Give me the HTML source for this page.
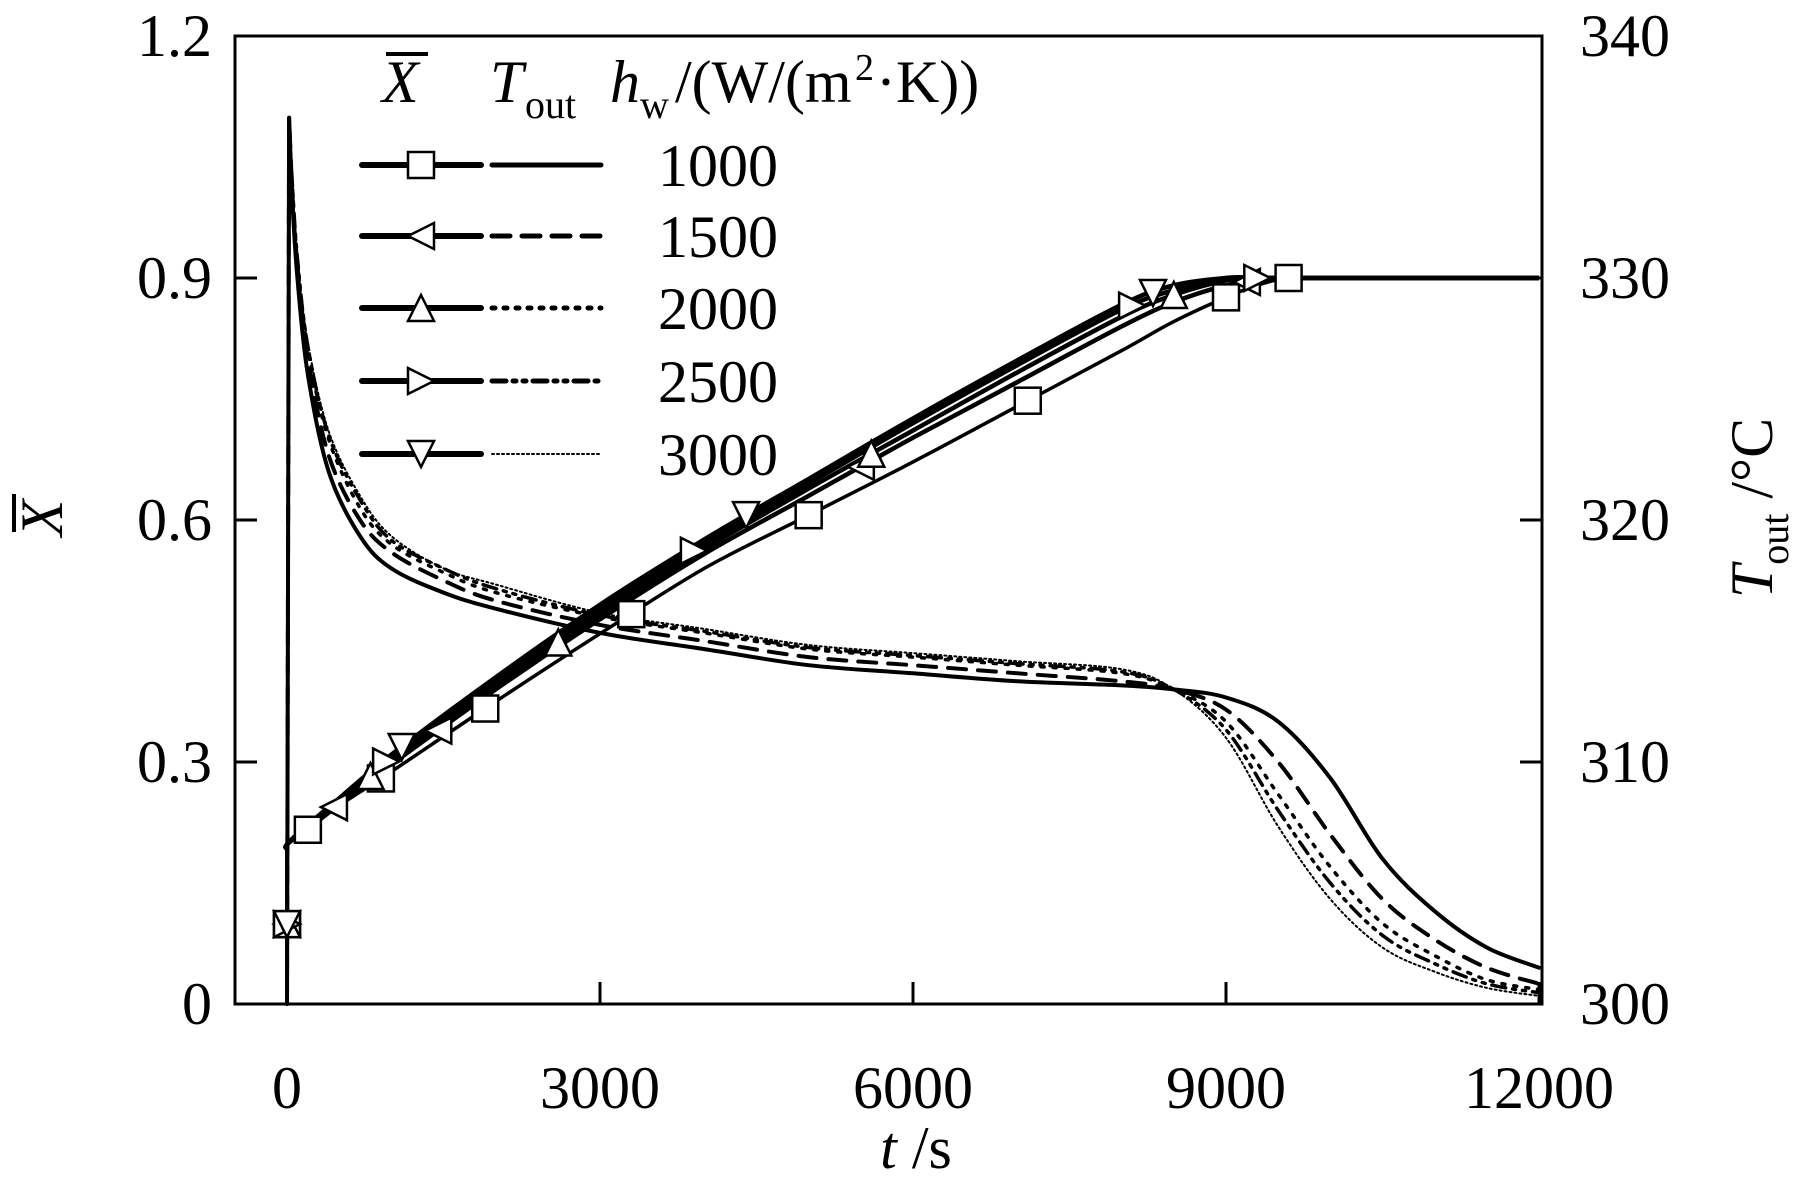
<!DOCTYPE html>
<html><head><meta charset="utf-8">
<style>
html,body{margin:0;padding:0;background:#fff;}
svg{display:block;}
text{font-family:"Liberation Serif",serif;fill:#000;}
</style></head>
<body>
<svg id="chart" width="1794" height="1181" viewBox="0 0 1794 1181" xmlns="http://www.w3.org/2000/svg">
<g id="plot"></g>
<g id="axes"></g>
<g id="legend"></g>
</svg>
<script>
// ---- data ----
const xTimes = [0, 20, 50, 100, 200, 400, 700, 1000, 1500, 2000, 3000, 4000, 5000, 6000, 7000, 8000, 8500, 9000, 9500, 10000, 10500, 11000, 11500, 12000];
const X1000 = [0,1.1,1.0,0.9,0.78,0.66,0.58,0.54,0.51,0.49,0.46,0.44,0.42,0.41,0.40,0.395,0.39,0.38,0.35,0.28,0.18,0.115,0.07,0.045];
const X1500 = [0,1.1,1.01,0.91,0.80,0.68,0.60,0.56,0.525,0.50,0.47,0.45,0.43,0.42,0.41,0.40,0.39,0.365,0.30,0.21,0.13,0.08,0.045,0.025];
const X2000 = [0,1.1,1.015,0.92,0.81,0.70,0.615,0.57,0.535,0.51,0.48,0.46,0.44,0.43,0.42,0.41,0.39,0.35,0.26,0.17,0.10,0.06,0.03,0.018];
const X2500 = [0,1.1,1.02,0.925,0.815,0.705,0.625,0.575,0.54,0.515,0.482,0.462,0.442,0.432,0.422,0.412,0.39,0.34,0.24,0.15,0.085,0.05,0.025,0.014];
const X3000 = [0,1.1,1.02,0.93,0.82,0.71,0.63,0.58,0.54,0.52,0.485,0.465,0.445,0.435,0.425,0.415,0.39,0.33,0.22,0.13,0.07,0.04,0.02,0.01];

const tTimes = [0, 1, 200, 500, 1000, 2000, 3000, 4000, 5000, 6000, 7000, 8000, 8500, 9000, 9300, 9600, 10000, 12000];
const T1000 = [306.4,306.6,307.2,308.2,309.6,312.5,315.3,318.0,320.2,322.4,324.7,327.0,328.2,329.2,329.7,330,330,330];
const T1500 = [306.4,306.6,307.3,308.3,309.9,313.0,315.9,318.6,321.0,323.4,325.7,328.0,329.0,329.7,329.9,330,330,330];
const T2000 = [306.4,306.6,307.3,308.4,310.1,313.2,316.1,318.8,321.3,323.7,326.1,328.4,329.3,329.9,330,330,330,330];
const T2500 = [306.4,306.6,307.4,308.4,310.2,313.4,316.3,319.0,321.5,324.0,326.4,328.7,329.5,330,330,330,330,330];
const T3000 = [306.4,306.6,307.4,308.5,310.3,313.5,316.5,319.2,321.7,324.2,326.6,328.9,329.7,330,330,330,330,330];

const marks1000 = [200, 900, 1900, 3300, 5000, 7100, 9000, 9600];
const marks1500 = [450, 1450, 5500, 9200];
const marks2000 = [800, 2600, 5600, 8500];
const marks2500 = [950, 3900, 8100, 9300];
const marks3000 = [1100, 4400, 8300];
const startT = 303.3;

const hwLabels = ["1000","1500","2000","2500","3000"];
const xTicks = [0, 3000, 6000, 9000, 12000];
const yTicks = [0, 0.3, 0.6, 0.9, 1.2];
const yTickLabels = ["0","0.3","0.6","0.9","1.2"];
const tTicks = [300, 310, 320, 330, 340];

// ---- scales ----
const L=235, R=1542, TOP=36, BOT=1004, X0=287, X12=1539;
const sx = t => X0 + (X12 - X0) * t / 12000;
const sy = v => BOT - (BOT - TOP) * v / 1.2;
const sT = T => BOT - (BOT - TOP) * (T - 300) / 40;

const NS = "http://www.w3.org/2000/svg";
function el(tag, attrs, parent){const e=document.createElementNS(NS,tag);for(const k in attrs)e.setAttribute(k,attrs[k]);parent.appendChild(e);return e;}
function smoothPath(pts, start){
  start = start||0;
  let d = "M"+pts[0][0].toFixed(1)+","+pts[0][1].toFixed(1);
  for(let i=1;i<=start;i++) d+="L"+pts[i][0].toFixed(1)+","+pts[i][1].toFixed(1);
  for(let i=start;i<pts.length-1;i++){
    const p0=pts[Math.max(start,i-1)],p1=pts[i],p2=pts[i+1],p3=pts[Math.min(pts.length-1,i+2)];
    const c1=[p1[0]+(p2[0]-p0[0])/6,p1[1]+(p2[1]-p0[1])/6];
    const c2=[p2[0]-(p3[0]-p1[0])/6,p2[1]-(p3[1]-p1[1])/6];
    d+="C"+c1[0].toFixed(1)+","+c1[1].toFixed(1)+" "+c2[0].toFixed(1)+","+c2[1].toFixed(1)+" "+p2[0].toFixed(1)+","+p2[1].toFixed(1);
  }
  return d;
}
function interp(ts, vs, t){
  for(let i=0;i<ts.length-1;i++){ if(t>=ts[i]&&t<=ts[i+1]){const f=(t-ts[i])/(ts[i+1]-ts[i]);return vs[i]+f*(vs[i+1]-vs[i]);} }
  return vs[vs.length-1];
}
function marker(type, cx, cy, parent){
  const s=13;
  let e;
  if(type==="sq") e=el("rect",{x:cx-s,y:cy-s,width:2*s,height:2*s},parent);
  else {
    let p;
    if(type==="left") p=[[cx-s,cy],[cx+s,cy-s],[cx+s,cy+s]];
    else if(type==="up") p=[[cx,cy-s],[cx-s,cy+s],[cx+s,cy+s]];
    else if(type==="right") p=[[cx+s,cy],[cx-s,cy-s],[cx-s,cy+s]];
    else p=[[cx,cy+s],[cx-s,cy-s],[cx+s,cy-s]];
    e=el("polygon",{points:p.map(q=>q.join(",")).join(" ")},parent);
  }
  e.setAttribute("fill","#fff");e.setAttribute("stroke","#000");e.setAttribute("stroke-width","2.5");
  return e;
}

const plot = document.getElementById("plot");
const axes = document.getElementById("axes");
const legend = document.getElementById("legend");

const xSeries=[X1000,X1500,X2000,X2500,X3000];
const tSeries=[T1000,T1500,T2000,T2500,T3000];
const markSeries=[marks1000,marks1500,marks2000,marks2500,marks3000];
const mTypes=["sq","left","up","right","down"];
const dashes=["", "18,12", "3,9", "14,7,3,7,3,7", "2,3"];
const widths=[4,4,3.5,3.5,2];

// X curves
xSeries.forEach((s,i)=>{
  const pts=xTimes.map((t,j)=>[sx(t),sy(s[j])]);
  const p=el("path",{d:smoothPath(pts,1),fill:"none",stroke:"#000","stroke-width":widths[i],"stroke-linecap":"round"},plot);
  if(dashes[i]) p.setAttribute("stroke-dasharray",dashes[i]);
  
  
});
// vertical initial line
const vline=el("line",{x1:sx(0),y1:sy(0),x2:sx(0),y2:sT(T1000[0]),stroke:"#000","stroke-width":4},plot);


// T curves
tSeries.forEach((s,i)=>{
  const pts=tTimes.map((t,j)=>[sx(t),sT(s[j])]);
  const p=el("path",{d:smoothPath(pts,0),fill:"none",stroke:"#000","stroke-width":i===0?3.5:4.5},plot);
  
  
});
// markers
markSeries.forEach((ms,i)=>{
  const g0=marker(mTypes[i],sx(0),sT(startT),plot);
  
  
  ms.forEach(t=>{
    const m=marker(mTypes[i],sx(t),sT(interp(tTimes,tSeries[i],t)),plot);
    
    
  });
});

// frame
const fr=el("rect",{x:L,y:TOP,width:R-L,height:BOT-TOP,fill:"none",stroke:"#000","stroke-width":3},axes);


const TL=22;
xTicks.forEach((t,i)=>{
  const ln=el("line",{x1:sx(t),y1:BOT,x2:sx(t),y2:BOT-TL,stroke:"#000","stroke-width":3},axes);
  
  
  const tx=el("text",{x:sx(t),y:1108,"font-size":60,"text-anchor":"middle"},axes);
  tx.textContent=String(t);
  
  
});
yTicks.forEach((v,i)=>{
  const ln=el("line",{x1:L,y1:sy(v),x2:L+TL,y2:sy(v),stroke:"#000","stroke-width":3},axes);
  
  
  const ln2=el("line",{x1:R,y1:sy(v),x2:R-TL,y2:sy(v),stroke:"#000","stroke-width":3},axes);
  
  
  const tx=el("text",{x:212,y:sy(v)+20,"font-size":60,"text-anchor":"end"},axes);
  tx.textContent=yTickLabels[i];
  
  
});
tTicks.forEach(T=>{
  const tx=el("text",{x:1580,y:sT(T)+20,"font-size":60},axes);
  tx.textContent=String(T);
  
  
});

// legend rows
const rowY=[165,236,308,381,454];
const legDash=["", "18,12", "3,9", "14,7,3,7,3,7", "2,3"];
rowY.forEach((y,i)=>{
  const l1=el("line",{x1:362,y1:y,x2:481,y2:y,stroke:"#000","stroke-width":6,"stroke-linecap":"round"},legend);
  
  
  const m=marker(mTypes[i],421,y,legend);
  
  
  const l2=el("line",{x1:492,y1:y,x2:601,y2:y,stroke:"#000","stroke-width":i===4?2:5,"stroke-linecap":"round"},legend);
  if(legDash[i]) l2.setAttribute("stroke-dasharray",legDash[i]);
  
  
  const tx=el("text",{x:658,y:y+21,"font-size":60},legend);
  tx.textContent=hwLabels[i];
  
  
});
</script>
<svg style="position:absolute;left:0;top:0" width="1794" height="1181">
  <g>
    <line x1="386" y1="54" x2="428" y2="54" stroke="#000" stroke-width="4"/>
    <text x="382" y="102" font-size="60" font-style="italic">X</text>
    <text x="490" y="102" font-size="60" font-style="italic">T</text>
    <text x="525" y="118" font-size="40">out</text>
    <text x="610" y="102" font-size="60" font-style="italic">h</text>
    <text x="640" y="118" font-size="40">w</text>
    <text x="675" y="102" font-size="60">/(W/(m</text>
    <text x="855" y="80" font-size="38">2</text>
    <text x="876" y="102" font-size="60">·K))</text>
  </g>
  <g transform="translate(62,518) rotate(-90)">
    <text x="0" y="0" font-size="60" font-style="italic" text-anchor="middle">X</text>
    <line x1="-14" y1="-48" x2="24" y2="-48" stroke="#000" stroke-width="4"/>
  </g>
  <g transform="translate(1772,508) rotate(-90)">
    <text x="0" y="0" font-size="60" text-anchor="middle"><tspan font-style="italic">T</tspan><tspan font-size="40" dy="16">out</tspan><tspan dy="-16"> /°C</tspan></text>
  </g>
  <text x="916" y="1168" font-size="60" text-anchor="middle"><tspan font-style="italic">t</tspan> /s</text>
</svg>
</body></html>
